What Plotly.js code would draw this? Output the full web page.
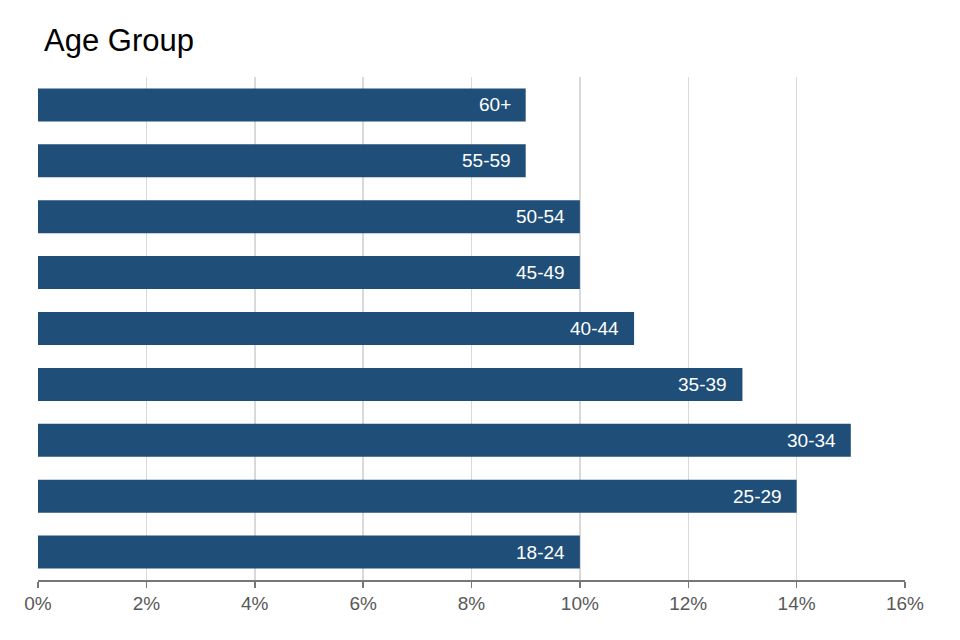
<!DOCTYPE html>
<html>
<head>
<meta charset="utf-8">
<script src="https://cdn.plot.ly/plotly-3.0.1.min.js"></script>
<style>html,body{margin:0;padding:0;background:#fff;}#chart{width:960px;height:640px;}</style>
</head>
<body>
<div id="chart"></div>
<script>
const categories = ["18-24","25-29","30-34","35-39","40-44","45-49","50-54","55-59","60+"];
const values = [10,14,15,13,11,10,10,9,9];
const tickVals = [0,2,4,6,8,10,12,14,16];
const tickLabels = ["0%","2%","4%","6%","8%","10%","12%","14%","16%"];

const FONT = "Liberation Sans, Arial, Helvetica, sans-serif";

const annotations = categories.map((c, i) => ({
  x: values[i], y: c, xref: "x", yref: "y",
  text: c, showarrow: false, xanchor: "right", yanchor: "middle",
  xshift: -13, font: {color: "#ffffff", size: 19, family: FONT}
}));

Plotly.newPlot("chart", [{
  type: "bar",
  orientation: "h",
  y: categories,
  x: values,
  marker: {color: "#1f4e79", line: {width: 0}},
  hoverinfo: "none"
}], {
  width: 960, height: 640,
  margin: {l: 38, r: 55, t: 77, b: 60},
  paper_bgcolor: "#fff", plot_bgcolor: "#fff",
  bargap: 0.41,
  showlegend: false,
  font: {family: FONT},
  annotations: annotations,
  title: {text: "Age Group", x: 0, xref: "paper", xanchor: "left", y: 0.937, yref: "container", yanchor: "middle",
          pad: {l: 6}, font: {size: 31, color: "#000"}},
  xaxis: {
    range: [0, 16], tickvals: tickVals, ticktext: tickLabels,
    showgrid: true, gridcolor: "#d9d9d9", gridwidth: 1.5,
    zeroline: false, showline: true, linecolor: "#777", linewidth: 1.5,
    ticks: "outside", ticklen: 6, tickcolor: "#777", tickwidth: 1.5,
    tickfont: {size: 19, color: "#595959"}, fixedrange: true
  },
  yaxis: {
    categoryorder: "array", categoryarray: categories,
    showticklabels: false, showgrid: false, zeroline: false, showline: false, ticks: "",
    range: [-0.5, 8.5]
  }
}, {displayModeBar: false, staticPlot: true});
</script>
</body>
</html>
